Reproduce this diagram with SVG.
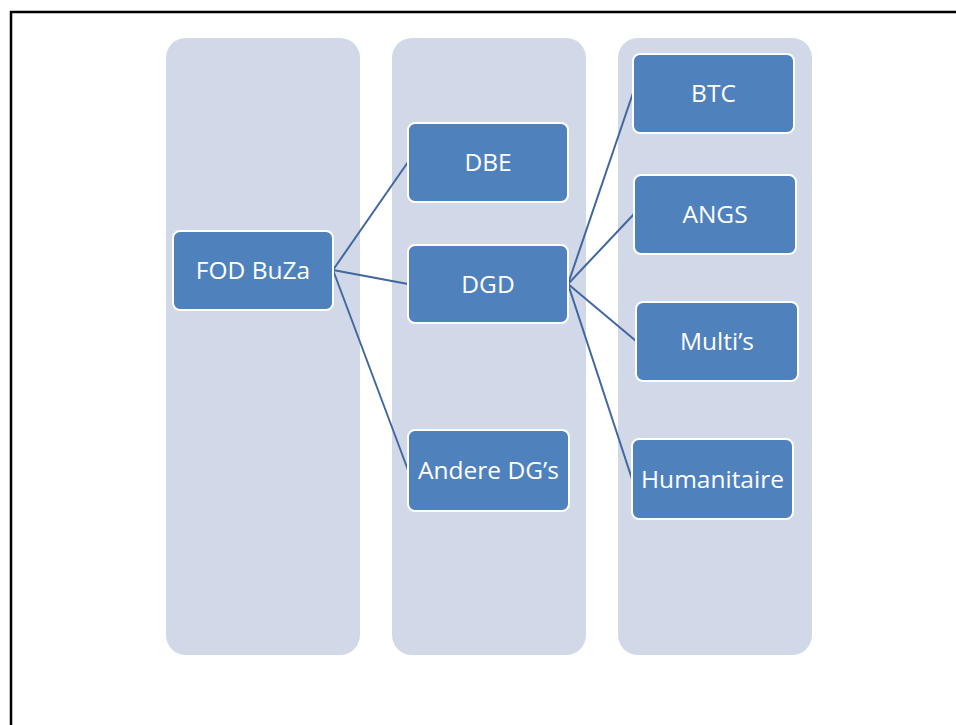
<svg xmlns="http://www.w3.org/2000/svg" width="956" height="725" viewBox="0 0 956 725">
  <style>
    .col { fill: #D1D8E7; }
    .box { fill: #4F81BD; stroke: #FFFFFF; stroke-width: 2; }
    .lbl { fill: #FFFFFF; font-family: "Open Sans", "Liberation Sans", sans-serif; font-size: 24.5px; text-anchor: middle; }
    .conn { stroke: #41679F; stroke-width: 2; fill: none; }
  </style>
  <rect x="0" y="0" width="956" height="725" fill="#FFFFFF"/>
  <rect x="11" y="12" width="960" height="730" fill="none" stroke="#000000" stroke-width="2.5"/>
  <g id="columns">
    <rect class="col" x="166" y="38" width="194" height="617" rx="20"/>
    <rect class="col" x="392" y="38" width="194" height="617" rx="20"/>
    <rect class="col" x="618" y="38" width="194" height="617" rx="20"/>
  </g>
  <g id="connectors">
    <line class="conn" x1="333" y1="270" x2="408" y2="162"/>
    <line class="conn" x1="333" y1="270" x2="408" y2="284"/>
    <line class="conn" x1="333" y1="270" x2="408" y2="470"/>
    <line class="conn" x1="568" y1="284" x2="633" y2="93"/>
    <line class="conn" x1="568" y1="284" x2="634" y2="214"/>
    <line class="conn" x1="568" y1="284" x2="636" y2="341"/>
    <line class="conn" x1="568" y1="284" x2="632" y2="479"/>
  </g>
  <g id="fod-buza">
    <rect class="box" x="173" y="231" width="160" height="79" rx="7"/>
    <text class="lbl" x="253" y="279">FOD BuZa</text>
  </g>
  <g id="dbe">
    <rect class="box" x="408" y="123" width="160" height="79" rx="7"/>
    <text class="lbl" x="488" y="171">DBE</text>
  </g>
  <g id="dgd">
    <rect class="box" x="408" y="245" width="160" height="78" rx="7"/>
    <text class="lbl" x="488" y="293">DGD</text>
  </g>
  <g id="andere-dgs">
    <rect class="box" x="408" y="430" width="161" height="81" rx="7"/>
    <text class="lbl" x="488.5" y="479">Andere DG’s</text>
  </g>
  <g id="btc">
    <rect class="box" x="633" y="54" width="161" height="79" rx="7"/>
    <text class="lbl" x="713.5" y="102">BTC</text>
  </g>
  <g id="angs">
    <rect class="box" x="634" y="175" width="162" height="79" rx="7"/>
    <text class="lbl" x="715" y="223">ANGS</text>
  </g>
  <g id="multis">
    <rect class="box" x="636" y="302" width="162" height="79" rx="7"/>
    <text class="lbl" x="717" y="350">Multi’s</text>
  </g>
  <g id="humanitaire">
    <rect class="box" x="632" y="439" width="161" height="80" rx="7"/>
    <text class="lbl" x="712.5" y="488">Humanitaire</text>
  </g>
</svg>
